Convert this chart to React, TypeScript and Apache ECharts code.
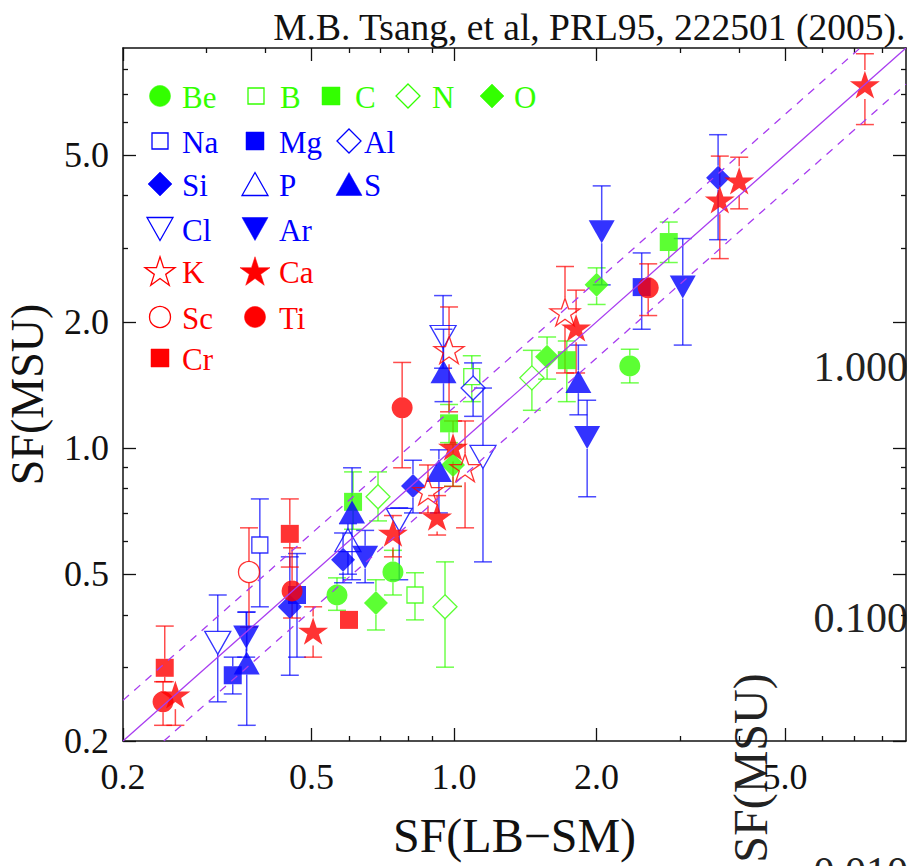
import React, { useEffect, useRef } from 'react';
import * as echarts from 'echarts';

// ---- data: [SF(LB-SM), SF(MSU), lower error, upper error] ----
const Be = [[0.566, 0.446, 0.41, 0.49], [0.743, 0.506, 0.446, 0.57], [2.35, 1.57, 1.43, 1.72]];
const B = [[0.827, 0.446, 0.389, 0.504], [1.09, 1.48, 1.29, 1.66]];
const C = [[0.612, 0.744, 0.64, 0.877], [0.976, 1.145, 1.03, 1.27], [1.73, 1.62, 1.29, 1.8], [2.84, 3.1, 2.77, 3.46]];
const N = [[0.691, 0.765, 0.67, 0.877], [0.957, 0.418, 0.3, 0.535], [1.46, 1.47, 1.23, 1.71]];
const O = [[0.684, 0.427, 0.368, 0.485], [0.995, 0.911, 0.81, 1.02], [1.572, 1.65, 1.46, 1.84], [2.0, 2.45, 2.2, 2.69]];
const Na = [[0.389, 0.587, 0.418, 0.756]];
const Mg = [[0.341, 0.287, 0.259, 0.317], [0.466, 0.446, 0.317, 0.56], [2.49, 2.42, 1.92, 2.92]];
const Al = [[1.097, 1.39, 1.19, 1.596]];
const Si = [[0.45, 0.418, 0.287, 0.55], [0.583, 0.541, 0.477, 0.627], [0.819, 0.812, 0.7, 0.935], [3.61, 4.41, 3.14, 5.59]];
const P = [[0.597, 0.603, 0.5, 0.66]];
const S = [[0.365, 0.307, 0.218, 0.406], [0.609, 0.704, 0.485, 0.897], [0.929, 0.884, 0.7, 0.99], [0.95, 1.52, 1.29, 1.92], [1.83, 1.44, 1.2, 1.76]];
const Cl = [[0.317, 0.343, 0.248, 0.446], [0.766, 0.674, 0.485, 0.72], [1.151, 0.952, 0.535, 1.39], [0.948, 1.84, 1.55, 2.31]];
const Ar = [[0.364, 0.354, 0.317, 0.406], [0.649, 0.549, 0.477, 0.636], [1.91, 1.06, 0.765, 1.3], [2.05, 3.28, 2.45, 4.22], [3.04, 2.42, 1.76, 3.16]];
const K = [[0.881, 0.79, 0.7, 0.911], [1.055, 0.897, 0.645, 1.16], [0.976, 1.715, 1.22, 2.17], [1.715, 2.11, 1.51, 2.71]];
const Ca = [[0.258, 0.258, 0.218, 0.277], [0.504, 0.366, 0.317, 0.418], [0.743, 0.627, 0.55, 0.69], [0.921, 0.685, 0.62, 0.77], [0.995, 1.006, 0.81, 1.16], [1.81, 1.935, 1.51, 2.38], [3.64, 3.91, 2.83, 4.97], [4.0, 4.34, 3.72, 4.94], [7.37, 7.36, 5.91, 8.72]];
const Sc = [[0.369, 0.506, 0.374, 0.645]];
const Ti = [[0.243, 0.248, 0.218, 0.277], [0.455, 0.456, 0.393, 0.578], [0.777, 1.247, 0.897, 1.6], [2.57, 2.41, 2.07, 2.75]];
const Cr = [[0.245, 0.299, 0.277, 0.376], [0.45, 0.624, 0.52, 0.756], [0.6, 0.389, 0.389, 0.389]];

const AXIS_MIN = 0.2;
const AXIS_MAX = 9;
const MAJOR_TICKS = [0.2, 0.5, 1, 2, 5];
const MINOR_TICKS = [0.3, 0.4, 0.6, 0.7, 0.8, 0.9, 3, 4, 6, 7, 8];
const BAND_FACTORS = [1.25, 0.82];
const TITLE = 'M.B. Tsang, et al, PRL95, 222501 (2005).';
const X_NAME = 'SF(LB\u2212SM)';
const Y_NAME = 'SF(MSU)';
const STRAY_LABELS = ['1.000', '0.100', '0.010'];

const GREEN = '#33ff00';
const BLUE = '#0000ff';
const RED = '#ff0000';
const VIOLET = '#a83cf0';
const FONT = "'Liberation Serif', 'DejaVu Serif', serif";

const STAR_PATH = (() => {
  const pts: string[] = [];
  for (let i = 0; i < 10; i++) {
    const r = i % 2 === 0 ? 50 : 19.1;
    const a = -Math.PI / 2 + (i * Math.PI) / 5;
    pts.push((50 + r * Math.cos(a)).toFixed(2) + ' ' + (50 + r * Math.sin(a)).toFixed(2));
  }
  return 'path://M' + pts.join(' L') + ' Z';
})();

type El = { name: string; data: number[][]; color: string; shape: string; w: number; h: number; filled: boolean };

const ELEMENTS: El[] = [
  { name: 'Be', data: Be, color: GREEN, shape: 'circle', w: 21, h: 21, filled: true },
  { name: 'B', data: B, color: GREEN, shape: 'rect', w: 16, h: 16, filled: false },
  { name: 'C', data: C, color: GREEN, shape: 'rect', w: 18, h: 18, filled: true },
  { name: 'N', data: N, color: GREEN, shape: 'diamond', w: 24, h: 24, filled: false },
  { name: 'O', data: O, color: GREEN, shape: 'diamond', w: 24, h: 24, filled: true },
  { name: 'Na', data: Na, color: BLUE, shape: 'rect', w: 16, h: 16, filled: false },
  { name: 'Mg', data: Mg, color: BLUE, shape: 'rect', w: 18, h: 18, filled: true },
  { name: 'Al', data: Al, color: BLUE, shape: 'diamond', w: 24, h: 24, filled: false },
  { name: 'Si', data: Si, color: BLUE, shape: 'diamond', w: 24, h: 24, filled: true },
  { name: 'P', data: P, color: BLUE, shape: 'up', w: 26, h: 23, filled: false },
  { name: 'S', data: S, color: BLUE, shape: 'up', w: 26, h: 23, filled: true },
  { name: 'Cl', data: Cl, color: BLUE, shape: 'down', w: 26, h: 23, filled: false },
  { name: 'Ar', data: Ar, color: BLUE, shape: 'down', w: 26, h: 23, filled: true },
  { name: 'K', data: K, color: RED, shape: 'star', w: 30, h: 29, filled: false },
  { name: 'Ca', data: Ca, color: RED, shape: 'star', w: 30, h: 29, filled: true },
  { name: 'Sc', data: Sc, color: RED, shape: 'circle', w: 21, h: 21, filled: false },
  { name: 'Ti', data: Ti, color: RED, shape: 'circle', w: 21, h: 21, filled: true },
  { name: 'Cr', data: Cr, color: RED, shape: 'rect', w: 18, h: 18, filled: true },
];

// legend layout: [marker centre x, row centre y, text x]
const LEGEND_LAYOUT: Record<string, number[]> = {
  Be: [160, 96, 182], B: [256, 96, 280], C: [331, 96, 355], N: [408, 96, 432], O: [492, 96, 514],
  Na: [160, 141, 182], Mg: [255, 141, 279], Al: [349, 141, 364],
  Si: [160, 184, 182], P: [255, 184, 279], S: [349, 184, 364],
  Cl: [160, 229, 182], Ar: [255, 229, 279],
  K: [160, 271, 182], Ca: [255, 271, 279],
  Sc: [160, 317, 182], Ti: [255, 317, 279],
  Cr: [160, 358, 182],
};

function markerStyle(el: El) {
  return el.filled
    ? { fill: el.color, stroke: el.color, lineWidth: 0.5 }
    : { fill: 'none', stroke: el.color, lineWidth: 1.3 };
}

function legendMarker(el: El, cx: number, cy: number) {
  const style = markerStyle(el);
  const w = el.w, h = el.h;
  if (el.shape === 'circle') return { type: 'circle', shape: { cx, cy, r: w / 2 }, style };
  if (el.shape === 'rect') return { type: 'rect', shape: { x: cx - w / 2, y: cy - h / 2, width: w, height: h }, style };
  if (el.shape === 'diamond')
    return { type: 'polygon', shape: { points: [[cx, cy - h / 2], [cx + w / 2, cy], [cx, cy + h / 2], [cx - w / 2, cy]] }, style };
  if (el.shape === 'up')
    return { type: 'polygon', shape: { points: [[cx, cy - h / 2], [cx + w / 2, cy + h / 2], [cx - w / 2, cy + h / 2]] }, style };
  if (el.shape === 'down')
    return { type: 'polygon', shape: { points: [[cx - w / 2, cy - h / 2], [cx + w / 2, cy - h / 2], [cx, cy + h / 2]] }, style };
  const R = w / 1.902;
  const sc = cy + 0.0955 * R;
  const pts: number[][] = [];
  for (let i = 0; i < 10; i++) {
    const r = i % 2 === 0 ? R : R * 0.382;
    const a = -Math.PI / 2 + (i * Math.PI) / 5;
    pts.push([cx + r * Math.cos(a), sc + r * Math.sin(a)]);
  }
  return { type: 'polygon', shape: { points: pts }, style };
}

function seriesSymbol(el: El) {
  if (el.shape === 'circle') return 'circle';
  if (el.shape === 'rect') return 'rect';
  if (el.shape === 'diamond') return 'diamond';
  if (el.shape === 'up' || el.shape === 'down') return 'triangle';
  return STAR_PATH;
}

function errorRenderer(el: El) {
  const gap = el.h / 2;
  const cap = 9;
  return (params: any, api: any) => {
    const x = api.value(0), y = api.value(1), lo = api.value(2), hi = api.value(3);
    const p = api.coord([x, y]);
    const pl = api.coord([x, lo]);
    const ph = api.coord([x, hi]);
    const style = { stroke: el.color, lineWidth: 1.5, opacity: 0.7 };
    const children: any[] = [];
    if (ph[1] < p[1] - gap) {
      children.push({ type: 'line', shape: { x1: p[0], y1: p[1] - gap, x2: p[0], y2: ph[1] }, style });
      children.push({ type: 'line', shape: { x1: p[0] - cap, y1: ph[1], x2: p[0] + cap, y2: ph[1] }, style });
    }
    if (pl[1] > p[1] + gap) {
      children.push({ type: 'line', shape: { x1: p[0], y1: p[1] + gap, x2: p[0], y2: pl[1] }, style });
      children.push({ type: 'line', shape: { x1: p[0] - cap, y1: pl[1], x2: p[0] + cap, y2: pl[1] }, style });
    }
    return { type: 'group', children };
  };
}

const tickFmt = (v: any) => Number(v).toFixed(1);
const axisTextStyle = { color: '#111', fontSize: 36, fontFamily: FONT };

function xAxisDef(position: string, minor: boolean, main: boolean) {
  return {
    type: 'log', logBase: 10, min: AXIS_MIN, max: AXIS_MAX, position,
    axisLine: { show: !minor, lineStyle: { color: '#111', width: 1.5 } },
    axisTick: { show: true, inside: true, length: minor ? 5 : 13, customValues: minor ? MINOR_TICKS : MAJOR_TICKS, lineStyle: { color: '#111', width: 1.3 } },
    axisLabel: main ? { show: true, customValues: MAJOR_TICKS, formatter: tickFmt, margin: 18, ...axisTextStyle } : { show: false },
    splitLine: { show: false },
    minorTick: { show: false },
    ...(main ? { name: X_NAME, nameLocation: 'middle', nameGap: 70, nameTextStyle: { color: '#111', fontSize: 48, fontFamily: FONT } } : {}),
  };
}

function yAxisDef(position: string, minor: boolean, main: boolean) {
  return {
    type: 'log', logBase: 10, min: AXIS_MIN, max: AXIS_MAX, position,
    axisLine: { show: !minor, lineStyle: { color: '#111', width: 1.5 } },
    axisTick: { show: true, inside: true, length: minor ? 5 : 13, customValues: minor ? MINOR_TICKS : MAJOR_TICKS, lineStyle: { color: '#111', width: 1.3 } },
    axisLabel: main ? { show: true, customValues: MAJOR_TICKS, formatter: tickFmt, margin: 14, ...axisTextStyle } : { show: false },
    splitLine: { show: false },
    minorTick: { show: false },
    ...(main ? { name: Y_NAME, nameLocation: 'middle', nameRotate: 90, nameGap: 74, nameTextStyle: { color: '#111', fontSize: 46, lineHeight: 44, fontFamily: FONT } } : {}),
  };
}

export default function App() {
  const ref = useRef<HTMLDivElement>(null);
  useEffect(() => {
    if (!ref.current) return;
    const chart = echarts.init(ref.current, null, { renderer: 'svg' });

    const series: any[] = [];
    ELEMENTS.forEach((el) => {
      series.push({
        type: 'custom', name: el.name + ' error', xAxisIndex: 0, yAxisIndex: 0, silent: true, z: 2,
        data: el.data, encode: { x: 0, y: 1 }, renderItem: errorRenderer(el),
      });
    });
    ELEMENTS.forEach((el) => {
      series.push({
        type: 'scatter', name: el.name, xAxisIndex: 0, yAxisIndex: 0, z: 3,
        data: el.data.map((d) => [d[0], d[1]]),
        symbol: seriesSymbol(el), symbolSize: [el.w, el.h], symbolKeepAspect: el.shape === 'star',
        symbolRotate: el.shape === 'down' ? 180 : 0,
        itemStyle: el.filled
          ? { color: el.color, borderWidth: 0 }
          : { color: 'rgba(0,0,0,0)', borderColor: el.color, borderWidth: 1.3 },
      });
    });
    // y = x and the two band lines
    const lineSeries = (k: number, dashed: boolean) => {
      const x0 = Math.max(AXIS_MIN, AXIS_MIN / k);
      const x1 = Math.min(AXIS_MAX, AXIS_MAX / k);
      return {
        type: 'line', xAxisIndex: 0, yAxisIndex: 0, z: 5, silent: true, symbol: 'none',
        data: [[x0, x0 * k], [x1, x1 * k]],
        lineStyle: { color: VIOLET, width: 1.3, type: dashed ? [8, 7] : 'solid' },
      };
    };
    series.push(lineSeries(1, false));
    BAND_FACTORS.forEach((k) => series.push(lineSeries(k, true)));

    const graphics: any[] = [];
    ELEMENTS.forEach((el) => {
      const pos = LEGEND_LAYOUT[el.name];
      graphics.push(legendMarker(el, pos[0], pos[1]));
      graphics.push({
        type: 'text', x: pos[2], y: pos[1] + 1,
        style: { text: el.name, fill: el.color, fontSize: 31, fontFamily: FONT, align: 'left', verticalAlign: 'middle' },
      });
    });
    const strayY = [367, 618, 872];
    STRAY_LABELS.forEach((t, i) => {
      graphics.push({
        type: 'text', x: 908, y: strayY[i],
        style: { text: t, fill: '#222', fontSize: 42, fontFamily: FONT, align: 'right', verticalAlign: 'middle' },
      });
    });
    graphics.push({
      type: 'text', x: 750, y: 768, rotation: Math.PI / 2,
      style: { text: Y_NAME, fill: '#222', fontSize: 48, fontFamily: FONT, align: 'center', verticalAlign: 'middle' },
    });

    chart.setOption({
      animation: false,
      backgroundColor: '#fff',
      title: {
        text: TITLE, right: 4, top: 8, padding: 0,
        textStyle: { color: '#111', fontSize: 37.5, fontWeight: 'normal', fontFamily: FONT },
      },
      grid: { left: 123, right: 4, top: 48, bottom: 125, containLabel: false, outerBoundsMode: 'none' },
      xAxis: [xAxisDef('bottom', false, true), xAxisDef('bottom', true, false), xAxisDef('top', false, false), xAxisDef('top', true, false)],
      yAxis: [yAxisDef('left', false, true), yAxisDef('left', true, false), yAxisDef('right', false, false), yAxisDef('right', true, false)],
      series,
      graphic: graphics,
    });
    return () => chart.dispose();
  }, []);
  return <div ref={ref} style={{ position: 'fixed', left: 0, top: 0, width: 910, height: 866 }} />;
}
